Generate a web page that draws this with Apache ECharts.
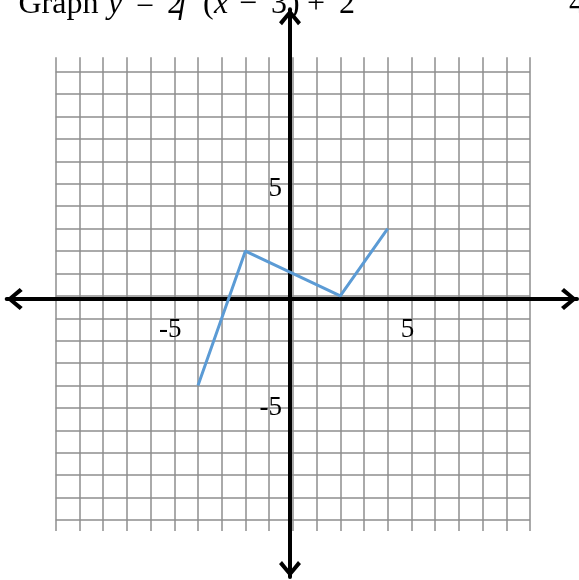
<!DOCTYPE html>
<html>
<head>
<meta charset="utf-8">
<script src="https://cdn.jsdelivr.net/npm/echarts@6/dist/echarts.min.js"></script>
<style>
  html, body { margin: 0; padding: 0; background: #fff; }
  #chart { width: 579px; height: 580px; }
</style>
</head>
<body>
<div id="chart"></div>
<script>
// graph of y = 2f(x - 3) + 2, vertices
const curveX = [-4, -2, 2, 4]
const curveY = [-4, 2, 0, 3]
const xTickLabels = [-5, 5]
const yTickLabels = [-5, 5]

// title pieces (cut off at the top in the original)
const titleTokens = ['Graph', 'y', '=', '2', 'f', '(', 'x', '−', '3', ')', '+', '2']
const titleItalic = [false, true, false, false, true, false, true, false, false, false, false, false]
const titleLeft = [18.5, 108, 136, 167, 178, 203, 214, 239, 271, 289, 307, 339]

const serif = '"Liberation Serif", "Times New Roman", serif'
const gridColor = '#8e8e8e'

// chevron pointing up, fitted to symbolSize
const chevron = 'path://M11,0 L22,13 L19,16 L11,6 L3,16 L0,13 Z'

const chart = echarts.init(document.getElementById('chart'))

const titleGraphics = titleTokens.map((t, i) => ({
  type: 'text', x: titleLeft[i], y: 4.5,
  style: {
    text: t,
    font: (titleItalic[i] ? 'italic ' : '') + '32px ' + serif,
    fill: '#000',
    verticalAlign: 'middle'
  }
}))

chart.setOption({
  animation: false,
  grid: [
    // vertical grid lines, a bit taller than the square grid
    { left: 55.7, right: 49, top: 57.3, bottom: 49, outerBoundsMode: 'none' },
    // horizontal grid lines + curve
    { left: 55.7, right: 49, top: 71.7, bottom: 60, outerBoundsMode: 'none' },
    // black axes with arrows
    { left: 6.7, right: 2, top: 9.3, bottom: 3, outerBoundsMode: 'none' }
  ],
  xAxis: [
    {
      gridIndex: 0, type: 'value', min: -10, max: 10, interval: 1,
      axisLine: { show: false }, axisTick: { show: false }, axisLabel: { show: false },
      splitLine: { show: true, lineStyle: { color: gridColor, width: 1.5 } }
    },
    {
      // moved up from the bottom edge to the zero line
      gridIndex: 1, type: 'value', min: -10, max: 10, interval: 1,
      position: 'bottom', offset: -224.1,
      axisLine: { show: false, onZero: false },
      axisTick: { show: false },
      splitLine: { show: false },
      axisLabel: {
        show: true, margin: 21, fontFamily: serif, fontSize: 27, color: '#000',
        padding: [0, 8, 0, 0],
        formatter: v => xTickLabels.includes(v) ? String(v) : ''
      }
    },
    {
      gridIndex: 2, type: 'value', min: -283.3, max: 287,
      axisLine: {
        show: true, onZero: true,
        lineStyle: { color: '#000', width: 4 },
        symbol: [chevron, chevron], symbolSize: [22, 16], symbolOffset: [8, -8]
      },
      axisTick: { show: false }, axisLabel: { show: false }, splitLine: { show: false }
    }
  ],
  yAxis: [
    {
      gridIndex: 0, type: 'value', min: 0, max: 1, show: false
    },
    {
      // moved right from the left edge to the zero line
      gridIndex: 1, type: 'value', min: -10, max: 10, interval: 1,
      position: 'left', offset: -237.2,
      axisLine: { show: false, onZero: false },
      axisTick: { show: false },
      splitLine: { show: true, lineStyle: { color: gridColor, width: 1.5 } },
      axisLabel: {
        show: true, margin: 11, fontFamily: serif, fontSize: 27, color: '#000',
        formatter: v => {
          if (!yTickLabels.includes(v)) return ''
          return v > 0 ? '{up|' + v + '}' : '{dn|' + v + '}'
        },
        rich: {
          up: { fontFamily: serif, fontSize: 27, color: '#000', padding: [11, 0, 0, 0] },
          dn: { fontFamily: serif, fontSize: 27, color: '#000' }
        }
      }
    },
    {
      gridIndex: 2, type: 'value', min: -278, max: 289.7,
      axisLine: {
        show: true, onZero: true,
        lineStyle: { color: '#000', width: 4 },
        symbol: [chevron, chevron], symbolSize: [22, 16], symbolOffset: [8, -8]
      },
      axisTick: { show: false }, axisLabel: { show: false }, splitLine: { show: false }
    }
  ],
  graphic: titleGraphics.concat([
    {
      type: 'text', x: 569, y: 4.5,
      style: { text: '4', font: '32px ' + serif, fill: '#000', verticalAlign: 'middle' }
    }
  ]),
  series: [
    {
      type: 'line',
      xAxisIndex: 1, yAxisIndex: 1,
      data: curveX.map((x, i) => [x, curveY[i]]),
      showSymbol: false,
      symbol: 'none',
      lineStyle: { color: '#5b9bd5', width: 3 },
      z: 10
    }
  ]
})
</script>
</body>
</html>
